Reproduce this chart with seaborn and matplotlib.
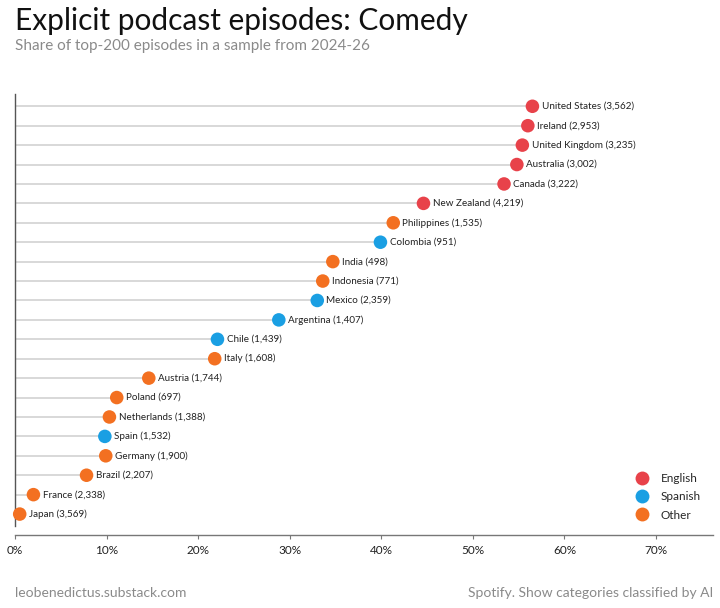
import numpy as np
import pandas as pd
import matplotlib
matplotlib.use("Agg")
import matplotlib.pyplot as plt
import seaborn as sns

sns.set_style("white")
plt.rcParams["font.family"] = ["Lato", "DejaVu Sans"]

countries = ["Japan", "France", "Brazil", "Germany", "Spain", "Netherlands", "Poland",
             "Austria", "Italy", "Chile", "Argentina", "Mexico", "Indonesia", "India",
             "Colombia", "Philippines", "New Zealand", "Canada", "Australia",
             "United Kingdom", "Ireland", "United States"]
counts = [3569, 2338, 2207, 1900, 1532, 1388, 697, 1744, 1608, 1439, 1407, 2359, 771, 498,
          951, 1535, 4219, 3222, 3002, 3235, 2953, 3562]
share = [0.5, 2.0, 7.8, 9.9, 9.8, 10.3, 11.1, 14.6, 21.8, 22.1, 28.8, 33.0, 33.6, 34.7,
         39.9, 41.3, 44.6, 53.4, 54.8, 55.4, 56.0, 56.5]
language = ["Other", "Other", "Other", "Other", "Spanish", "Other", "Other", "Other", "Other",
            "Spanish", "Spanish", "Spanish", "Other", "Other", "Spanish", "Other", "English",
            "English", "English", "English", "English", "English"]

df = pd.DataFrame({"country": countries, "count": counts, "share": share, "language": language})
df["row"] = np.arange(len(df))

palette = {"English": "#e8424a", "Spanish": "#1a9fe3", "Other": "#f37021"}

fig = plt.figure(figsize=(7.2, 6.08), dpi=100)
ax = fig.add_axes([0.021, 0.12, 0.969, 0.725])

# lollipop stems
ax.hlines(df["row"], 0, df["share"], color="#d6d6d6", linewidth=1.3, zorder=1)

sns.scatterplot(data=df, x="share", y="row", hue="language", palette=palette,
                hue_order=["English", "Spanish", "Other"], s=95, linewidth=0,
                zorder=3, ax=ax, clip_on=False)

for _, r in df.iterrows():
    ax.text(r["share"] + 1.0, r["row"], f"{r['country']} ({r['count']:,})",
            va="center", ha="left", fontsize=7.1, color="#222222")

ax.set_xlim(0, 76.2)
ax.set_ylim(-1.08, 21.62)
ax.set_xticks(np.arange(0, 80, 10))
ax.set_xticklabels([f"{v}%" for v in range(0, 80, 10)], fontsize=8.5, color="#222222")
ax.set_yticks([])
ax.set_xlabel("")
ax.set_ylabel("")
ax.tick_params(axis="x", length=3, width=0.8, color="#777777", pad=4, bottom=True)

for side in ["top", "right"]:
    ax.spines[side].set_visible(False)
ax.spines["left"].set_color("#555555")
ax.spines["left"].set_linewidth(1.0)
ax.spines["left"].set_bounds(-0.6, 21.62)
ax.spines["bottom"].set_color("#777777")
ax.spines["bottom"].set_linewidth(1.0)

leg = ax.legend(loc="lower right", bbox_to_anchor=(0.995, 0.014), frameon=False,
                fontsize=8.5, handletextpad=0.6, labelspacing=0.62, borderaxespad=0.3,
                markerscale=1.0)
for h in leg.legend_handles:
    h.set_markersize(10)

fig.text(0.021, 0.965, "Explicit podcast episodes: Comedy", fontsize=21.5, color="#111111",
         va="center", ha="left")
fig.text(0.021, 0.924, "Share of top-200 episodes in a sample from 2024-26", fontsize=11,
         color="#8a8a8a", va="center", ha="left")
fig.text(0.021, 0.025, "leobenedictus.substack.com", fontsize=10, color="#8a8a8a",
         va="center", ha="left")
fig.text(0.99, 0.025, "Spotify. Show categories classified by AI", fontsize=10,
         color="#8a8a8a", va="center", ha="right")

fig.savefig("out.png", dpi=100)
